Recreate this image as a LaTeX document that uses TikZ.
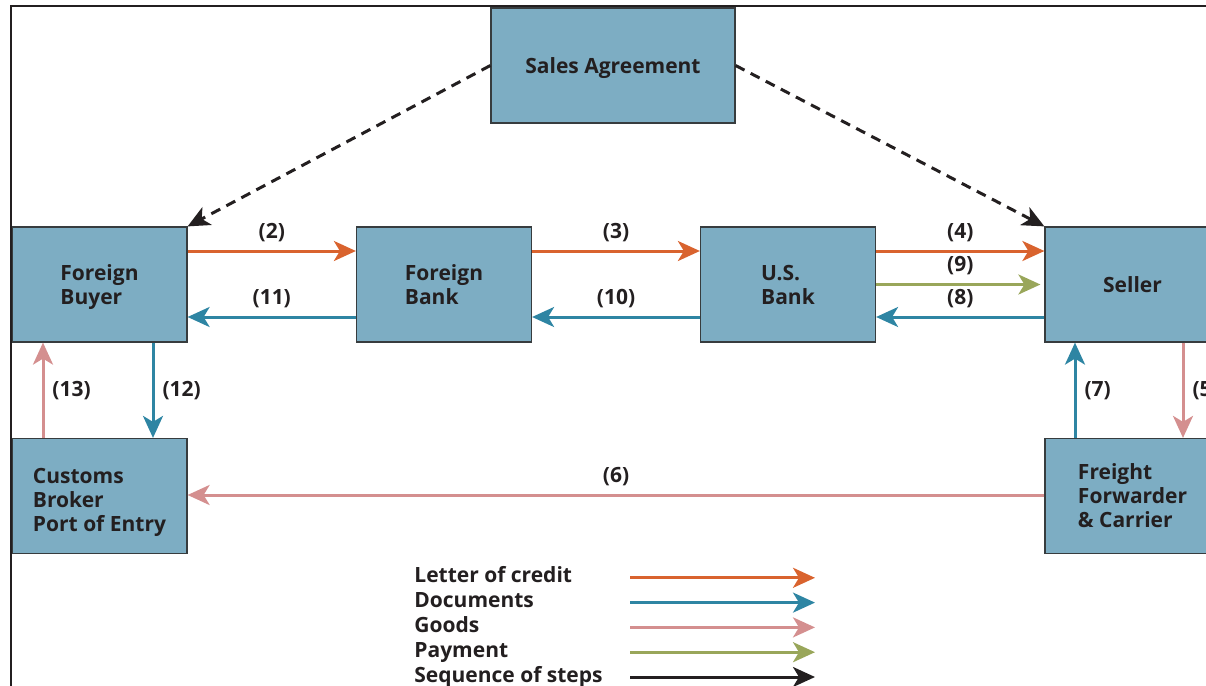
\documentclass[tikz,border=0pt]{standalone}
\usepackage{fontspec}
\setmainfont{Open Sans}
\usetikzlibrary{arrows.meta,calc}

\definecolor{boxfill}{RGB}{125,173,195}
\definecolor{boxline}{RGB}{55,60,62}
\definecolor{ink}{RGB}{35,31,32}
\definecolor{locol}{RGB}{217,99,46}
\definecolor{doccol}{RGB}{46,133,163}
\definecolor{goodcol}{RGB}{212,143,143}
\definecolor{paycol}{RGB}{153,166,90}

\tikzset{
  stepbox/.style={draw=boxline, fill=boxfill, line width=0.6pt,
    minimum width=87.5pt, minimum height=57.5pt, inner sep=0pt, text depth=0pt,
    align=left, text=ink, font=\bfseries\fontsize{10.5}{12}\selectfont},
  flow/.style={line width=1.5pt, -{Stealth[length=11pt,width=10pt,inset=3pt]}},
  num/.style={text=ink, inner sep=4pt, font=\bfseries\fontsize{10.5}{12}\selectfont},
  legtext/.style={text=ink, inner sep=0pt, font=\bfseries\fontsize{10.5}{12}\selectfont},
  loc/.style={draw=locol},
  docs/.style={draw=doccol},
  goods/.style={draw=goodcol},
  pay/.style={draw=paycol},
  seq/.style={draw=ink},
}

\begin{document}
\begin{tikzpicture}[x=0.5pt,y=-0.5pt]
      \useasboundingbox (0,0) rectangle (1206,686);
      \clip (0,0) rectangle (1206,686);
      % Boxes
      \node[stepbox, minimum width=122pt, align=center] (sales) at (613,65.5) {Sales Agreement};
      \node[stepbox] (buyer)   at (99.5,284.5)  {Foreign\\Buyer};
      \node[stepbox] (fbank)   at (444,284.5)   {Foreign\\Bank};
      \node[stepbox] (usbank)  at (788,284.5)   {U.S.\\Bank};
      \node[stepbox, align=center] (seller) at (1132.5,284.5) {Seller};
      \node[stepbox, text height=35.5pt] (customs) at (99.5,496) {Customs\\Broker\\Port of Entry};
      \node[stepbox] (freight) at (1132.5,496)  {Freight\\Forwarder\\\& Carrier};

      % Frame
      \draw[ink, line width=1.2pt] (11,686) -- (11,6) -- (1206,6);

      % Sales agreement
      \draw[flow, seq, dash pattern=on 5pt off 3.5pt] (sales.west) -- (buyer.north east);
      \draw[flow, seq, dash pattern=on 5pt off 3.5pt] (sales.east) -- (seller.north west);

      % Top row
      \draw[flow, loc]  ($(buyer.east)+(0,-33.5)$)  -- node[num, above] {(2)}  ($(fbank.west)+(0,-33.5)$);
      \draw[flow, docs] ($(fbank.west)+(0,32.5)$)   -- node[num, above] {(11)} ($(buyer.east)+(0,32.5)$);
      \draw[flow, loc]  ($(fbank.east)+(0,-33.5)$)  -- node[num, above] {(3)}  ($(usbank.west)+(0,-33.5)$);
      \draw[flow, docs] ($(usbank.west)+(0,32.5)$)  -- node[num, above] {(10)} ($(fbank.east)+(0,32.5)$);
      \draw[flow, loc]  ($(usbank.east)+(0,-33.5)$) -- node[num, above] {(4)}  ($(seller.west)+(0,-33.5)$);
      \draw[flow, pay, shorten >=2pt] ($(usbank.east)+(0,0)$) -- node[num, above] {(9)} ($(seller.west)+(0,0)$);
      \draw[flow, docs] ($(seller.west)+(0,32.5)$)  -- node[num, above] {(8)}  ($(usbank.east)+(0,32.5)$);

      % Sides
      \draw[flow, docs]  ($(buyer.south)+(53.5,0)$)    -- node[num, right] {(12)} ($(customs.north)+(53.5,0)$);
      \draw[flow, goods] ($(customs.north)+(-56.5,0)$) -- node[num, right] {(13)} ($(buyer.south)+(-56.5,0)$);
      \draw[flow, docs]  ($(freight.north)+(-57.5,0)$) -- node[num, right] {(7)}  ($(seller.south)+(-57.5,0)$);
      \draw[flow, goods] ($(seller.south)+(50.5,0)$)   -- node[num, right] {(5)}  ($(freight.north)+(50.5,0)$);

      % Bottom row
      \draw[flow, goods] ($(freight.west)+(0,-1)$) -- node[num, above] {(6)} ($(customs.east)+(0,-1)$);

      % Legend
      \foreach \txt/\kind [count=\i] in {Letter of credit/loc, Documents/docs, Goods/goods, Payment/pay, Sequence of steps/seq}{
        \node[legtext, anchor=base west] (leg\i) at (414,558+24.8*\i) {\txt};
        \coordinate (ls\i) at (630,553+24.8*\i);
        \coordinate (le\i) at (815,553+24.8*\i);
        \draw[flow, \kind] (ls\i) -- (le\i);
      }
\end{tikzpicture}
\end{document}
